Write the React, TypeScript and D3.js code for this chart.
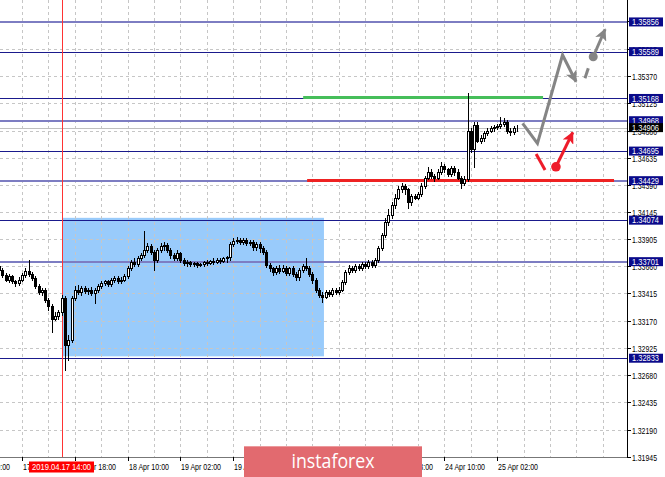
import React from "react";
import * as d3 from "d3";

// ---------- data ----------
const FIRST_HOUR = -7; // hours relative to 17 Apr 02:00 (H1 bars)
// [open, high, low, close]
const CANDLES: [number, number, number, number][] = [
  [1.3366, 1.3369, 1.3361, 1.3363],
  [1.3363, 1.3364, 1.3356, 1.3358],
  [1.3358, 1.336, 1.3353, 1.3354],
  [1.3354, 1.3359, 1.3352, 1.3357],
  [1.3357, 1.3358, 1.3351, 1.3353],
  [1.3353, 1.3354, 1.3348, 1.3351],
  [1.3351, 1.3356, 1.3349, 1.3354],
  [1.3354, 1.336, 1.3353, 1.3358],
  [1.3358, 1.3364, 1.3356, 1.3362],
  [1.3362, 1.3372, 1.3357, 1.3359],
  [1.3359, 1.3361, 1.3354, 1.3355],
  [1.3355, 1.3357, 1.3346, 1.3348],
  [1.3348, 1.335, 1.3341, 1.3343],
  [1.3343, 1.3346, 1.334, 1.3345],
  [1.3345, 1.3346, 1.3334, 1.3336],
  [1.3336, 1.3337, 1.3327, 1.333],
  [1.333, 1.3332, 1.3307, 1.3319],
  [1.3319, 1.3325, 1.3318, 1.3321],
  [1.3321, 1.3327, 1.3319, 1.3325],
  [1.3325, 1.334, 1.3322, 1.3337],
  [1.3337, 1.3339, 1.3273, 1.3295],
  [1.3295, 1.3304, 1.3282, 1.33],
  [1.33, 1.3339, 1.3298, 1.3337],
  [1.3337, 1.3348, 1.3336, 1.3345],
  [1.3345, 1.3349, 1.3341, 1.3343],
  [1.3343, 1.3348, 1.334, 1.3346],
  [1.3346, 1.3348, 1.3342, 1.3344],
  [1.3344, 1.3346, 1.3341, 1.3345],
  [1.3345, 1.3347, 1.334, 1.3342],
  [1.3342, 1.3346, 1.3333, 1.3345],
  [1.3345, 1.335, 1.3343, 1.3348],
  [1.3348, 1.3353, 1.3346, 1.3351],
  [1.3351, 1.3354, 1.3349, 1.3353],
  [1.3353, 1.3354, 1.3348, 1.335],
  [1.335, 1.3355, 1.3348, 1.3354],
  [1.3354, 1.3357, 1.3352, 1.3355],
  [1.3355, 1.3357, 1.3351, 1.3353],
  [1.3353, 1.3356, 1.3351, 1.3354],
  [1.3354, 1.3359, 1.3353, 1.3357],
  [1.3357, 1.3366, 1.3355, 1.3364],
  [1.3364, 1.3372, 1.3363, 1.337],
  [1.337, 1.3373, 1.3366, 1.3368],
  [1.3368, 1.3375, 1.3366, 1.3373],
  [1.3373, 1.3378, 1.3372, 1.3376],
  [1.3376, 1.3398, 1.3374, 1.3381],
  [1.3381, 1.3387, 1.3379, 1.3384],
  [1.3384, 1.3386, 1.3377, 1.3379],
  [1.3379, 1.3381, 1.3363, 1.3372],
  [1.3372, 1.3382, 1.337, 1.3381],
  [1.3381, 1.3387, 1.3379, 1.3384],
  [1.3384, 1.3388, 1.3381, 1.3385],
  [1.3385, 1.3387, 1.3379, 1.3381],
  [1.3381, 1.3382, 1.3373, 1.3376],
  [1.3376, 1.3378, 1.3372, 1.3373],
  [1.3373, 1.3381, 1.3372, 1.3378],
  [1.3378, 1.3379, 1.337, 1.3372],
  [1.3372, 1.3373, 1.3367, 1.3369],
  [1.3369, 1.3372, 1.3366, 1.337],
  [1.337, 1.3371, 1.3366, 1.3368],
  [1.3368, 1.337, 1.3366, 1.3369],
  [1.3369, 1.337, 1.3365, 1.3367],
  [1.3367, 1.3369, 1.3366, 1.3368],
  [1.3368, 1.3371, 1.3366, 1.337],
  [1.337, 1.3372, 1.3367, 1.3369],
  [1.3369, 1.3372, 1.3368, 1.3371],
  [1.3371, 1.3373, 1.3368, 1.337],
  [1.337, 1.3373, 1.3369, 1.3372],
  [1.3372, 1.3373, 1.3369, 1.3371],
  [1.3371, 1.3374, 1.337, 1.3373],
  [1.3373, 1.3375, 1.337, 1.3374],
  [1.3374, 1.3388, 1.3372, 1.3386],
  [1.3386, 1.3391, 1.3384, 1.3389],
  [1.3389, 1.3392, 1.3387, 1.339],
  [1.339, 1.3391, 1.3386, 1.3388],
  [1.3388, 1.3391, 1.3386, 1.339],
  [1.339, 1.3391, 1.3385, 1.3387],
  [1.3387, 1.339, 1.3385, 1.3388],
  [1.3388, 1.339, 1.3381, 1.3383],
  [1.3383, 1.3388, 1.3381, 1.3386],
  [1.3386, 1.3388, 1.3379, 1.3382],
  [1.3382, 1.3384, 1.3377, 1.3379],
  [1.3379, 1.3381, 1.3365, 1.3367],
  [1.3367, 1.3369, 1.3362, 1.3364],
  [1.3364, 1.3365, 1.3358, 1.3361],
  [1.3361, 1.3366, 1.3359, 1.3364],
  [1.3364, 1.3367, 1.336, 1.3362],
  [1.3362, 1.3367, 1.3361, 1.3364],
  [1.3364, 1.3366, 1.3358, 1.336],
  [1.336, 1.3365, 1.3358, 1.3364],
  [1.3364, 1.3366, 1.3357, 1.3359],
  [1.3359, 1.3361, 1.3354, 1.3356],
  [1.3356, 1.3364, 1.3354, 1.3363],
  [1.3363, 1.3368, 1.3361, 1.3366],
  [1.3366, 1.3373, 1.3363, 1.3364],
  [1.3364, 1.3366, 1.3357, 1.3359],
  [1.3359, 1.3361, 1.3351, 1.3354],
  [1.3354, 1.3355, 1.3343, 1.3345],
  [1.3345, 1.3346, 1.3338, 1.334],
  [1.334, 1.3343, 1.3334, 1.3338],
  [1.3338, 1.3345, 1.3337, 1.3343],
  [1.3343, 1.3345, 1.3339, 1.3341],
  [1.3341, 1.3346, 1.3339, 1.3345],
  [1.3345, 1.3346, 1.3341, 1.3343],
  [1.3343, 1.3347, 1.3341, 1.3345],
  [1.3345, 1.3354, 1.3344, 1.3352],
  [1.3352, 1.3363, 1.335, 1.3361],
  [1.3361, 1.3367, 1.3359, 1.3364],
  [1.3364, 1.3366, 1.3361, 1.3363],
  [1.3363, 1.3368, 1.3361, 1.3366],
  [1.3366, 1.3368, 1.3363, 1.3364],
  [1.3364, 1.337, 1.3363, 1.3368],
  [1.3368, 1.337, 1.3364, 1.3366],
  [1.3366, 1.3372, 1.3364, 1.337],
  [1.337, 1.3372, 1.3365, 1.3367],
  [1.3367, 1.3373, 1.3365, 1.3372],
  [1.3372, 1.3384, 1.337, 1.3382],
  [1.3382, 1.3396, 1.3381, 1.3394],
  [1.3394, 1.3409, 1.3392, 1.3406],
  [1.3406, 1.3417, 1.3403, 1.3412],
  [1.3412, 1.3424, 1.3409, 1.3421],
  [1.3421, 1.3431, 1.3418, 1.3427],
  [1.3427, 1.3438, 1.3426, 1.3435],
  [1.3435, 1.3441, 1.3433, 1.3438],
  [1.3438, 1.344, 1.3431, 1.3435],
  [1.3435, 1.3436, 1.3418, 1.3424],
  [1.3424, 1.3431, 1.3421, 1.3429],
  [1.3429, 1.3431, 1.3426, 1.3427],
  [1.3427, 1.3433, 1.3426, 1.3431],
  [1.3431, 1.3441, 1.3429, 1.3438],
  [1.3438, 1.3447, 1.3436, 1.3445],
  [1.3445, 1.3455, 1.3444, 1.3451],
  [1.3451, 1.3453, 1.3445, 1.3447],
  [1.3447, 1.3449, 1.3443, 1.3445],
  [1.3445, 1.3453, 1.3444, 1.3451],
  [1.3451, 1.346, 1.3449, 1.3456],
  [1.3456, 1.3458, 1.3451, 1.3453],
  [1.3453, 1.3454, 1.3447, 1.3449],
  [1.3449, 1.3456, 1.3447, 1.3454],
  [1.3454, 1.3456, 1.3448, 1.3451],
  [1.3451, 1.3453, 1.3444, 1.3445],
  [1.3445, 1.3447, 1.3436, 1.3441],
  [1.3441, 1.3447, 1.3439, 1.3444],
  [1.3444, 1.3522, 1.3443, 1.3488],
  [1.3488, 1.349, 1.3469, 1.3471],
  [1.3471, 1.3496, 1.3455, 1.3493],
  [1.3493, 1.3496, 1.3478, 1.3479],
  [1.3479, 1.3484, 1.3477, 1.3481],
  [1.3481, 1.3488, 1.3479, 1.3486],
  [1.3486, 1.349, 1.3484, 1.3488],
  [1.3488, 1.3492, 1.3487, 1.349],
  [1.349, 1.3493, 1.3488, 1.3491],
  [1.3491, 1.3494, 1.3489, 1.3492],
  [1.3492, 1.35, 1.349, 1.3494],
  [1.3494, 1.3499, 1.3492, 1.3496],
  [1.3496, 1.3497, 1.3486, 1.3488],
  [1.3488, 1.349, 1.3484, 1.3487],
  [1.3487, 1.3492, 1.3485, 1.349],
  [1.349, 1.3493, 1.3488, 1.34906],
];

const PRICE_TICKS = [
  "1.31945", "1.32190", "1.32435", "1.32680", "1.32925", "1.33170", "1.33415",
  "1.33660", "1.33905", "1.34145", "1.34390", "1.34635", "1.34880", "1.35125",
  "1.35370", "1.35615", "1.35860",
];
const STRONG_LEVELS = [1.35589, 1.35168, 1.34695, 1.34074, 1.32833];
const SOFT_LEVELS = [1.35856, 1.34968, 1.34429, 1.33701];
const CURRENT_PRICE = 1.34906;

const TIME_LABELS = [
  "16 Apr 10:00", "17 Apr 02:00", "17 Apr 18:00", "18 Apr 10:00", "19 Apr 02:00",
  "19 Apr 18:00", "22 Apr 10:00", "23 Apr 02:00", "23 Apr 18:00", "24 Apr 10:00",
  "25 Apr 02:00",
];
const TIME_LABEL_HOURS = [-16, 0, 16, 32, 48, 64, 80, 96, 112, 128, 144];
const GRID_HOURS = [0, 8, 16, 24, 32, 40, 48, 56, 64, 72, 80, 88, 96, 104, 112, 120, 128, 136, 144, 152, 160, 168, 176];
const MARK_HOUR = 12;
const MARK_LABEL = "2019.04.17 14:00";

const ZONE = { h0: 12.2, h1: 91.5, top: 1.34095, bottom: 1.3285 };
const GREEN_SEG = { h0: 85.2, h1: 157.9, price: 1.35168 };
const RED_SEG = { h0: 86.4, h1: 179.4, price: 1.34429 };

const GRAY_PATH: [number, number][] = [[151.7, 1.34945], [156.2, 1.34765], [163.8, 1.35559], [167.9, 1.35318]];
const GRAY_DASH: [number, number][] = [[170.6, 1.35349], [171.6, 1.35439]];
const GRAY_DOT: [number, number] = [173.1, 1.35543];
const GRAY_ARROW_END: [number, number] = [176.7, 1.3579];
const RED_DASH: [number, number][] = [[155.8, 1.34669], [158.5, 1.34525]];
const RED_DOT: [number, number] = [161.8, 1.34554];
const RED_ARROW_END: [number, number] = [166.9, 1.34864];

// ---------- component ----------
const W = 665;
const H = 477;
const PLOT_R = 627;
const PLOT_B = 457;
const FONT = "'Liberation Sans', Arial, sans-serif";
const LOGO = { x0: 244, x1: 422, y0: 446 };

export default function App() {
  const x = d3.scaleLinear().domain([0, 176]).range([22, 602.8]);
  const y = d3.scaleLinear().domain([1.31945, 1.3537]).range([PLOT_B, 76]);
  const line = d3
    .line<[number, number]>()
    .x((d) => x(d[0]))
    .y((d) => y(d[1]));

  const gridColor = "#c6c6c6";
  const strongColor = "#1a1a8c";
  const softColor = "#7d7dc2";
  const grayArrow = "#858585";
  const redArrow = "#ee1c2a";

  const py = (p: number) => Math.round(y(p));
  const boxLevels = [...SOFT_LEVELS, ...STRONG_LEVELS, CURRENT_PRICE];
  // grid price labels that sit completely under a level box are not drawn
  const priceLabelVisible = (t: string) => !boxLevels.some((v) => Math.abs(y(v) - y(+t)) < 1);
  // time labels lying fully beneath the watermark are not drawn
  const timeLabelVisible = (h: number) => {
    const tx = x(h);
    return !(tx > LOGO.x0 && tx + 41 < LOGO.x1);
  };

  return (
    <svg
      width={W}
      height={H}
      style={{ position: "absolute", left: 0, top: 0, background: "#fff" }}
      xmlns="http://www.w3.org/2000/svg"
    >
      <defs>
        <marker id="headGray" markerUnits="userSpaceOnUse" markerWidth="12" markerHeight="12" refX="11" refY="6" orient="auto">
          <path d="M0,0 L12,6 L0,12 L3,6 z" fill={grayArrow} />
        </marker>
        <marker id="headRed" markerUnits="userSpaceOnUse" markerWidth="12" markerHeight="12" refX="11" refY="6" orient="auto">
          <path d="M0,0 L12,6 L0,12 L3,6 z" fill={redArrow} />
        </marker>
      </defs>
      <rect x={0} y={0} width={W} height={H} fill="#ffffff" />

      {/* zone rectangle */}
      <rect
        x={x(ZONE.h0)}
        y={y(ZONE.top)}
        width={x(ZONE.h1) - x(ZONE.h0)}
        height={y(ZONE.bottom) - y(ZONE.top)}
        fill="#99cbfb"
      />

      {/* grid */}
      <g stroke={gridColor} strokeWidth={1} strokeDasharray="3,3" shapeRendering="crispEdges">
        {GRID_HOURS.map((h) => (
          <line key={"gv" + h} x1={Math.round(x(h)) + 0.5} x2={Math.round(x(h)) + 0.5} y1={0} y2={PLOT_B} />
        ))}
        {PRICE_TICKS.map((t) => (
          <line key={"gh" + t} x1={0} x2={PLOT_R} y1={py(+t) + 0.5} y2={py(+t) + 0.5} />
        ))}
      </g>

      {/* levels */}
      {SOFT_LEVELS.map((v) => (
        <line key={"sl" + v} x1={0} x2={PLOT_R} y1={py(v)} y2={py(v)} stroke={softColor} strokeWidth={2} shapeRendering="crispEdges" />
      ))}
      {STRONG_LEVELS.map((v) => (
        <line key={"st" + v} x1={0} x2={PLOT_R} y1={py(v) + 0.5} y2={py(v) + 0.5} stroke={strongColor} strokeWidth={1} shapeRendering="crispEdges" />
      ))}
      <line x1={0} x2={PLOT_R} y1={py(CURRENT_PRICE) + 0.5} y2={py(CURRENT_PRICE) + 0.5} stroke="#c0c0c0" strokeWidth={1} shapeRendering="crispEdges" />

      {/* vertical marker line */}
      <line
        x1={Math.round(x(MARK_HOUR)) + 0.5}
        x2={Math.round(x(MARK_HOUR)) + 0.5}
        y1={0}
        y2={PLOT_B}
        stroke="#ff3333"
        strokeWidth={1}
        shapeRendering="crispEdges"
      />

      {/* green / red horizontal segments */}
      <line x1={x(GREEN_SEG.h0)} x2={x(GREEN_SEG.h1)} y1={py(GREEN_SEG.price) - 0.5} y2={py(GREEN_SEG.price) - 0.5} stroke="#46be5a" strokeWidth={3} />
      <line x1={x(RED_SEG.h0)} x2={x(RED_SEG.h1)} y1={py(RED_SEG.price) - 0.5} y2={py(RED_SEG.price) - 0.5} stroke="#ee2222" strokeWidth={3} />

      {/* candles */}
      <g shapeRendering="crispEdges">
        {CANDLES.map((c, i) => {
          const [o, hi, lo, cl] = c;
          const cx = Math.round(x(FIRST_HOUR + i));
          const top = Math.round(y(Math.max(o, cl)));
          const bot = Math.round(y(Math.min(o, cl)));
          const bull = cl >= o;
          return (
            <g key={"c" + i}>
              <line x1={cx + 0.5} x2={cx + 0.5} y1={Math.round(y(hi))} y2={Math.round(y(lo)) + 1} stroke="#000" strokeWidth={1} />
              <rect
                x={cx - 0.5}
                y={top + 0.5}
                width={2}
                height={Math.max(bot - top, 0)}
                fill={bull ? "#fff" : "#000"}
                stroke="#000"
                strokeWidth={1}
              />
            </g>
          );
        })}
      </g>

      {/* forecast annotations */}
      <path d={line(GRAY_PATH) || ""} fill="none" stroke={grayArrow} strokeWidth={3} strokeLinejoin="miter" markerEnd="url(#headGray)" />
      <path d={line(GRAY_DASH) || ""} fill="none" stroke={grayArrow} strokeWidth={3} />
      <line x1={x(GRAY_DOT[0])} y1={y(GRAY_DOT[1])} x2={x(GRAY_ARROW_END[0])} y2={y(GRAY_ARROW_END[1])} stroke={grayArrow} strokeWidth={3} markerEnd="url(#headGray)" />
      <circle cx={x(GRAY_DOT[0])} cy={y(GRAY_DOT[1])} r={4.5} fill={grayArrow} />

      <path d={line(RED_DASH) || ""} fill="none" stroke={redArrow} strokeWidth={3} />
      <line x1={x(RED_DOT[0])} y1={y(RED_DOT[1])} x2={x(RED_ARROW_END[0])} y2={y(RED_ARROW_END[1])} stroke={redArrow} strokeWidth={3} markerEnd="url(#headRed)" />
      <circle cx={x(RED_DOT[0])} cy={y(RED_DOT[1])} r={4.8} fill={redArrow} />

      {/* axes frame */}
      <line x1={PLOT_R + 0.5} x2={PLOT_R + 0.5} y1={0} y2={PLOT_B + 1} stroke="#000" strokeWidth={1} shapeRendering="crispEdges" />
      <line x1={0} x2={PLOT_R + 1} y1={PLOT_B + 0.5} y2={PLOT_B + 0.5} stroke="#777" strokeWidth={1} shapeRendering="crispEdges" />

      {/* price axis labels */}
      <g fontFamily={FONT} fontSize={9} fill="#000">
        {PRICE_TICKS.map((t) => (
          <g key={"pt" + t}>
            <line x1={PLOT_R} x2={PLOT_R + 4} y1={py(+t) + 0.5} y2={py(+t) + 0.5} stroke="#000" shapeRendering="crispEdges" />
            {priceLabelVisible(t) && (
              <text x={632} y={py(+t) + 3.5} textLength={25} lengthAdjust="spacingAndGlyphs">
                {t}
              </text>
            )}
          </g>
        ))}
      </g>

      {/* level boxes */}
      <g fontFamily={FONT} fontSize={8.5}>
        {[...SOFT_LEVELS, ...STRONG_LEVELS].map((v) => (
          <g key={"lb" + v}>
            <rect x={629} y={y(v) - 4.5} width={34} height={9} fill="#0a0a8a" />
            <text x={632} y={y(v) + 3.2} fill="#fff" textLength={27} lengthAdjust="spacingAndGlyphs">
              {v.toFixed(5)}
            </text>
          </g>
        ))}
        <rect x={629} y={y(CURRENT_PRICE) - 4.5} width={34} height={9} fill="#000" />
        <text x={632} y={y(CURRENT_PRICE) + 3.2} fill="#fff" textLength={27} lengthAdjust="spacingAndGlyphs">
          {CURRENT_PRICE.toFixed(5)}
        </text>
      </g>

      {/* time axis */}
      <g fontFamily={FONT} fontSize={9} fill="#000">
        {TIME_LABELS.map((t, i) => {
          const tx = Math.round(x(TIME_LABEL_HOURS[i]));
          return (
            <g key={"tl" + t}>
              <line x1={tx + 0.5} x2={tx + 0.5} y1={PLOT_B} y2={PLOT_B + 4} stroke="#000" shapeRendering="crispEdges" />
              {timeLabelVisible(TIME_LABEL_HOURS[i]) && (
                <text x={tx + 1} y={469.5} textLength={40} lengthAdjust="spacingAndGlyphs">
                  {t}
                </text>
              )}
            </g>
          );
        })}
        <rect x={x(MARK_HOUR) - 32.6} y={461.5} width={65} height={11} fill="#ff0000" />
        <text x={x(MARK_HOUR) - 29.5} y={470} fill="#fff" textLength={59} lengthAdjust="spacingAndGlyphs">
          {MARK_LABEL}
        </text>
      </g>

      {/* watermark */}
      <g>
        <rect x={LOGO.x0} y={LOGO.y0} width={LOGO.x1 - LOGO.x0} height={34} fill="#e26a6f" />
        <rect x={LOGO.x0} y={LOGO.y0} width={LOGO.x1 - LOGO.x0} height={1} fill="#ec9a9d" />
        <text
          x={333}
          y={468}
          textAnchor="middle"
          fontFamily="'Open Sans', 'Noto Sans', sans-serif"
          fontSize={20}
          fill="#fff"
          textLength={83}
          lengthAdjust="spacingAndGlyphs"
        >
          instaforex
        </text>
      </g>
    </svg>
  );
}
